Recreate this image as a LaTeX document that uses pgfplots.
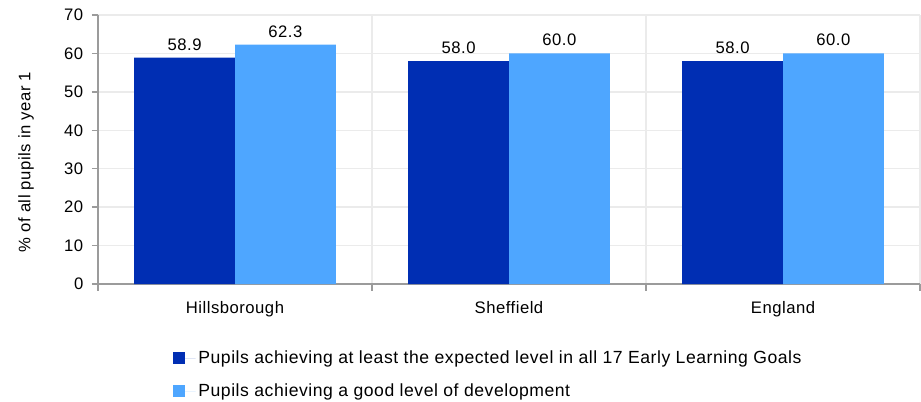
\documentclass[border=0pt]{standalone}
\usepackage{fontspec}
\setmainfont[LetterSpace=3]{Liberation Sans}
\usepackage{pgfplots}
\pgfplotsset{compat=1.18}
\definecolor{darkb}{RGB}{0,46,179}
\definecolor{lightb}{RGB}{78,166,255}
\definecolor{gridc}{RGB}{235,235,235}
\definecolor{axc}{RGB}{155,155,155}
\newcommand{\tfont}{\fontsize{12.5}{15}\selectfont}
\newcommand{\lfont}{\fontsize{13.2}{15.5}\selectfont}
\begin{document}
\begin{tikzpicture}
\useasboundingbox (-73.5pt,-87.75pt) rectangle (617.25pt,213pt);
\begin{axis}[
  at={(0,0)}, anchor=south west,
  scale only axis, width=616.5pt, height=201.75pt,
  xmin=-0.5, xmax=2.5, ymin=0, ymax=70,
  ytick={0,10,...,70},
  xtick={0,1,2}, xticklabels={Hillsborough,Sheffield,England},
  minor xtick={-0.5,0.5,1.5,2.5},
  major x tick style={draw=none},
  axis lines=left, axis line style={-, draw=axc, line width=1.1pt},
  ymajorgrids, xminorgrids,
  grid style={draw=gridc, line width=1.1pt},
  tick align=outside,
  major tick length=4.5pt, minor tick length=5pt,
  tick style={draw=axc, line width=1pt},
  /pgf/number format/assume math mode=true,
  ticklabel style={font=\tfont},
  yticklabel style={xshift=-3pt},
  xticklabel style={yshift=-5pt},
  ylabel={\% of all pupils in year 1},
  ylabel style={at={(axis description cs:-0.0876,0.453)}, anchor=center, font=\tfont},
  ybar, bar width=0.368,
  nodes near coords,
  nodes near coords style={font=\tfont, yshift=2pt, /pgf/number format/.cd, fixed, fixed zerofill, precision=1, assume math mode=true},
  legend style={at={(axis description cs:0.091,-0.237)}, anchor=north west, draw=none, fill=none,
    font=\lfont, row sep=9.75pt, cells={anchor=west}, inner sep=0pt},
  clip=false,
]
\addplot[bar shift=-0.184, fill=darkb, draw=none,
  legend image code/.code={\fill[darkb] (0pt,-4.5pt) rectangle (9pt,4.5pt); \path (9pt,0pt) -- (17pt,0pt);}]
  coordinates {(0,58.9) (1,58.0) (2,58.0)};
\addplot[bar shift=0.184, fill=lightb, draw=none,
  legend image code/.code={\fill[lightb] (0pt,-4.5pt) rectangle (9pt,4.5pt); \path (9pt,0pt) -- (17pt,0pt);}]
  coordinates {(0,62.3) (1,60.0) (2,60.0)};
\legend{Pupils achieving at least the expected level in all 17 Early Learning Goals,
Pupils achieving a good level of development}
\end{axis}
\end{tikzpicture}
\end{document}
